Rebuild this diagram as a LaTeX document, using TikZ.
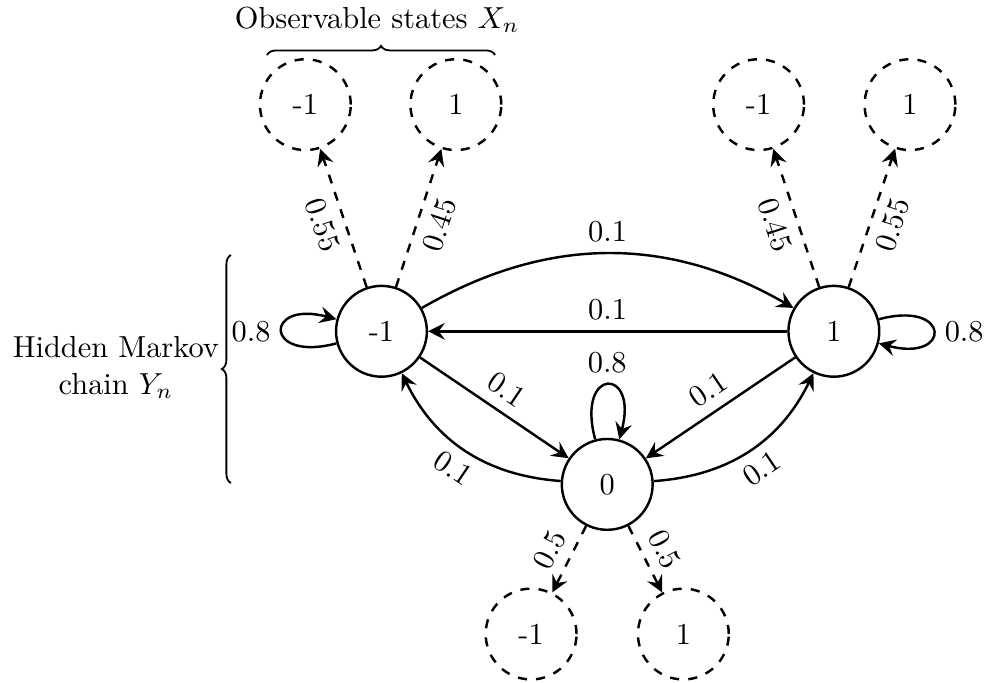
\documentclass[tikz,border=0pt]{standalone}
\usetikzlibrary{arrows.meta, decorations.pathreplacing}

\begin{document}
\begin{tikzpicture}[
        x=1cm, y=-1cm, % y grows downwards
        >={Stealth[length=5.5pt, width=5.5pt, inset=2pt]},
        hidden/.style={circle, draw=black, thick, minimum size=1.05cm, inner sep=0pt},
        observed/.style={hidden, dashed},
        trans/.style={->, thick},
        emit/.style={->, thick, dashed},
        brace/.style={decorate, decoration={brace, amplitude=3pt}, semithick}
    ]

    \useasboundingbox (0, 0) rectangle (11.445, 7.896);

    % Hidden chain states
    \node[hidden] (hm) at (4.41, 3.83) {-1};
    \node[hidden] (hp) at (9.64, 3.83) {1};
    \node[hidden] (h0) at (7.02, 5.60) {0};

    % Observable states
    \node[observed] (obs-lm) at (3.53, 1.21) {-1};
    \node[observed] (obs-lp) at (5.27, 1.21) {1};
    \node[observed] (obs-rm) at (8.77, 1.21) {-1};
    \node[observed] (obs-rp) at (10.52, 1.21) {1};
    \node[observed] (obs-bm) at (6.14, 7.33) {-1};
    \node[observed] (obs-bp) at (7.90, 7.33) {1};

    % Transitions
    \draw[trans] (hm) to[bend left=30] node[above] {0.1} (hp);
    \draw[trans] (hp) -- node[above] {0.1} (hm);
    \draw[trans] (hm) -- node[above, sloped] {0.1} (h0);
    \draw[trans] (hp) -- node[above, sloped] {0.1} (h0);
    \draw[trans] (h0) to[bend left=30] node[below, sloped] {0.1} (hm);
    \draw[trans] (h0) to[bend right=30] node[below, sloped] {0.1} (hp);
    \draw[trans] (hm) to[loop left] node[left] {0.8} (hm);
    \draw[trans] (hp) to[loop right] node[right] {0.8} (hp);
    \draw[trans] (h0) to[loop above] node[above] {0.8} (h0);

    % Emissions
    \draw[emit] (hm) -- node[below, sloped] {0.55} (obs-lm);
    \draw[emit] (hm) -- node[below, sloped] {0.45} (obs-lp);
    \draw[emit] (hp) -- node[below, sloped] {0.45} (obs-rm);
    \draw[emit] (hp) -- node[below, sloped] {0.55} (obs-rp);
    \draw[emit] (h0) -- node[above, sloped] {0.5} (obs-bm);
    \draw[emit] (h0) -- node[above, sloped] {0.5} (obs-bp);

    % Braces and titles
    \coordinate (obs-top-a) at (3.087, 0.636);
    \coordinate (obs-top-b) at (5.723, 0.636);
    \draw[brace] (obs-top-a) -- (obs-top-b);
    \node (obs-title) at (4.36, 0.23) {Observable states $X_n$};

    \coordinate (chain-bot) at (2.670, 5.584);
    \coordinate (chain-top) at (2.670, 2.948);
    \draw[brace] (chain-bot) -- (chain-top);
    \node[align=center] (chain-title) at (1.34, 4.25) {Hidden Markov\\chain $Y_n$};

\end{tikzpicture}
\end{document}
